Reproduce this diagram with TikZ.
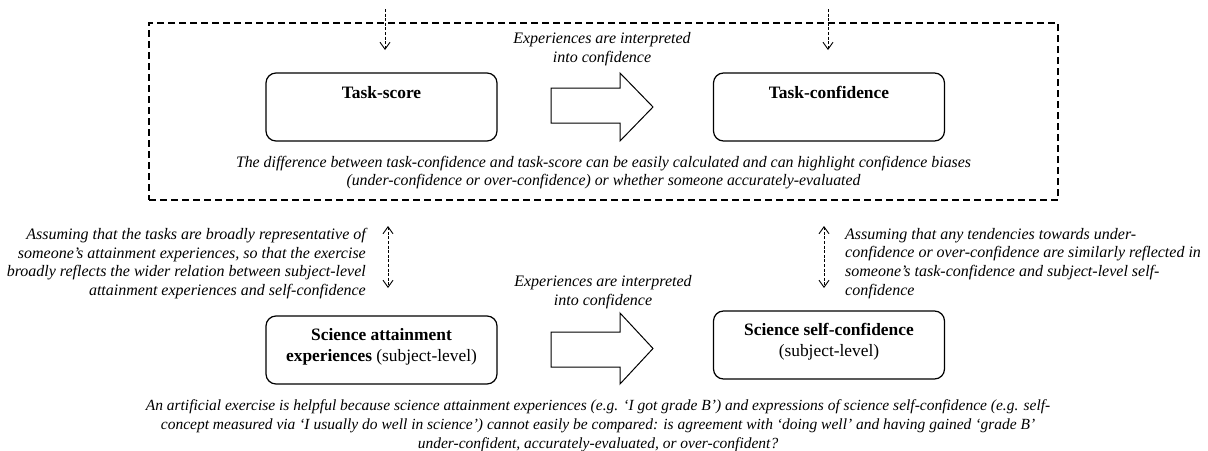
\documentclass[tikz,border=0pt]{standalone}
\usepackage{fontspec}
\usepackage{graphicx}
\setmainfont{Liberation Serif}
\usetikzlibrary{arrows.meta}
\newsavebox\fitbox
\newcommand\fitw[2]{\sbox\fitbox{#2}\pgfmathsetmacro\fitfac{#1/\wd\fitbox}\scalebox{\fitfac}[1]{\usebox\fitbox}}
\begin{document}
\begin{tikzpicture}[x=1pt,y=-1pt,
  box/.style={draw, line width=1.2pt, rounded corners=10pt, minimum width=231pt, minimum height=68pt, inner sep=0pt},
  boxtext/.style={font=\fontsize{17.4}{21}\selectfont, align=center, inner sep=0pt},
  note/.style={font=\fontsize{16}{18.8}\selectfont\itshape, inner sep=0pt},
  frame/.style={draw, line width=1.1pt, dash pattern=on 7pt off 4pt, inner sep=0pt},
  darr/.style={line width=0.9pt, dash pattern=on 3pt off 1.6pt, -{Straight Barb[length=7pt,width=10pt]}},
  ddarr/.style={line width=0.9pt, dash pattern=on 3pt off 1.6pt, {Straight Barb[length=7pt,width=10pt]}-{Straight Barb[length=7pt,width=10pt]}},
  blockarrow/.style={draw, line width=1pt, fill=white}
]
\useasboundingbox (0,0) rectangle (1208,450);

% dashed frame
\node[frame, minimum width=909pt, minimum height=177pt] (frame) at (603.5,111.5) {};

% top boxes
\node[box] (ts) at (381.5,107) {};
\node[boxtext, anchor=base] (tslab) at (381.5,98) {\textbf{Task-score}};
\node[box] (tc) at (829,107) {};
\node[boxtext, anchor=base] (tclab) at (829,98) {\textbf{Task-confidence}};

% bottom boxes
\node[box] (sa) at (381.5,350) {};
\node[boxtext] (salab) at (381.5,347) {\textbf{Science attainment}\\\textbf{experiences} (subject-level)};
\node[box] (sc) at (829,345) {};
\node[boxtext] (sclab) at (829,341.5) {\textbf{Science self-confidence}\\(subject-level)};

% block arrows
\draw[blockarrow] (551,88) -- (620,88) -- (620,73) -- (653,107) -- (620,141) -- (620,123) -- (551,123) -- cycle;
\draw[blockarrow] (551,332) -- (620,332) -- (620,313) -- (653,348.5) -- (620,384) -- (620,367) -- (551,367) -- cycle;

% interpretation labels
\node[note, align=center] (int1) at (602,49) {Experiences are interpreted\\into confidence};
\node[note, align=center] (int2) at (603,292.5) {Experiences are interpreted\\into confidence};

% caption in frame
\node[note, align=center] (cap1) at (603.5,172.5) {\fitw{735pt}{The difference between task-confidence and task-score can be easily calculated and can highlight confidence biases}\\\fitw{514pt}{(under-confidence or over-confidence) or whether someone accurately-evaluated}};

% top dashed arrows
\coordinate (a1s) at (385,9);
\coordinate (a1e) at (385,50);
\coordinate (a2s) at (828,9);
\coordinate (a2e) at (828,50);
\draw[darr] (a1s) -- (a1e);
\draw[darr] (a2s) -- (a2e);

% double dashed arrows
\coordinate (d1s) at (388,226);
\coordinate (d1e) at (388,288);
\coordinate (d2s) at (824,226);
\coordinate (d2e) at (824,288);
\draw[ddarr] (d1s) -- (d1e);
\draw[ddarr] (d2s) -- (d2e);

% side notes
\node[note, align=right, anchor=east] (left) at (366,263.5) {Assuming that the tasks are broadly representative of\\someone’s attainment experiences, so that the exercise\\broadly reflects the wider relation between subject-level\\attainment experiences and self-confidence};
\node[note, align=left, anchor=west] (right) at (845,263.5) {Assuming that any tendencies towards under-\\confidence or over-confidence are similarly reflected in\\someone’s task-confidence and subject-level self-\\confidence};

% bottom caption
\node[note, font=\fontsize{15.5}{18.8}\selectfont\itshape, align=center] (cap2) at (598,426) {An artificial exercise is helpful because science attainment experiences (e.g. ‘I got grade B’) and expressions of science self-confidence (e.g. self-\\concept measured via ‘I usually do well in science’) cannot easily be compared: is agreement with ‘doing well’ and having gained ‘grade B’\\under-confident, accurately-evaluated, or over-confident?};
\end{tikzpicture}
\end{document}
